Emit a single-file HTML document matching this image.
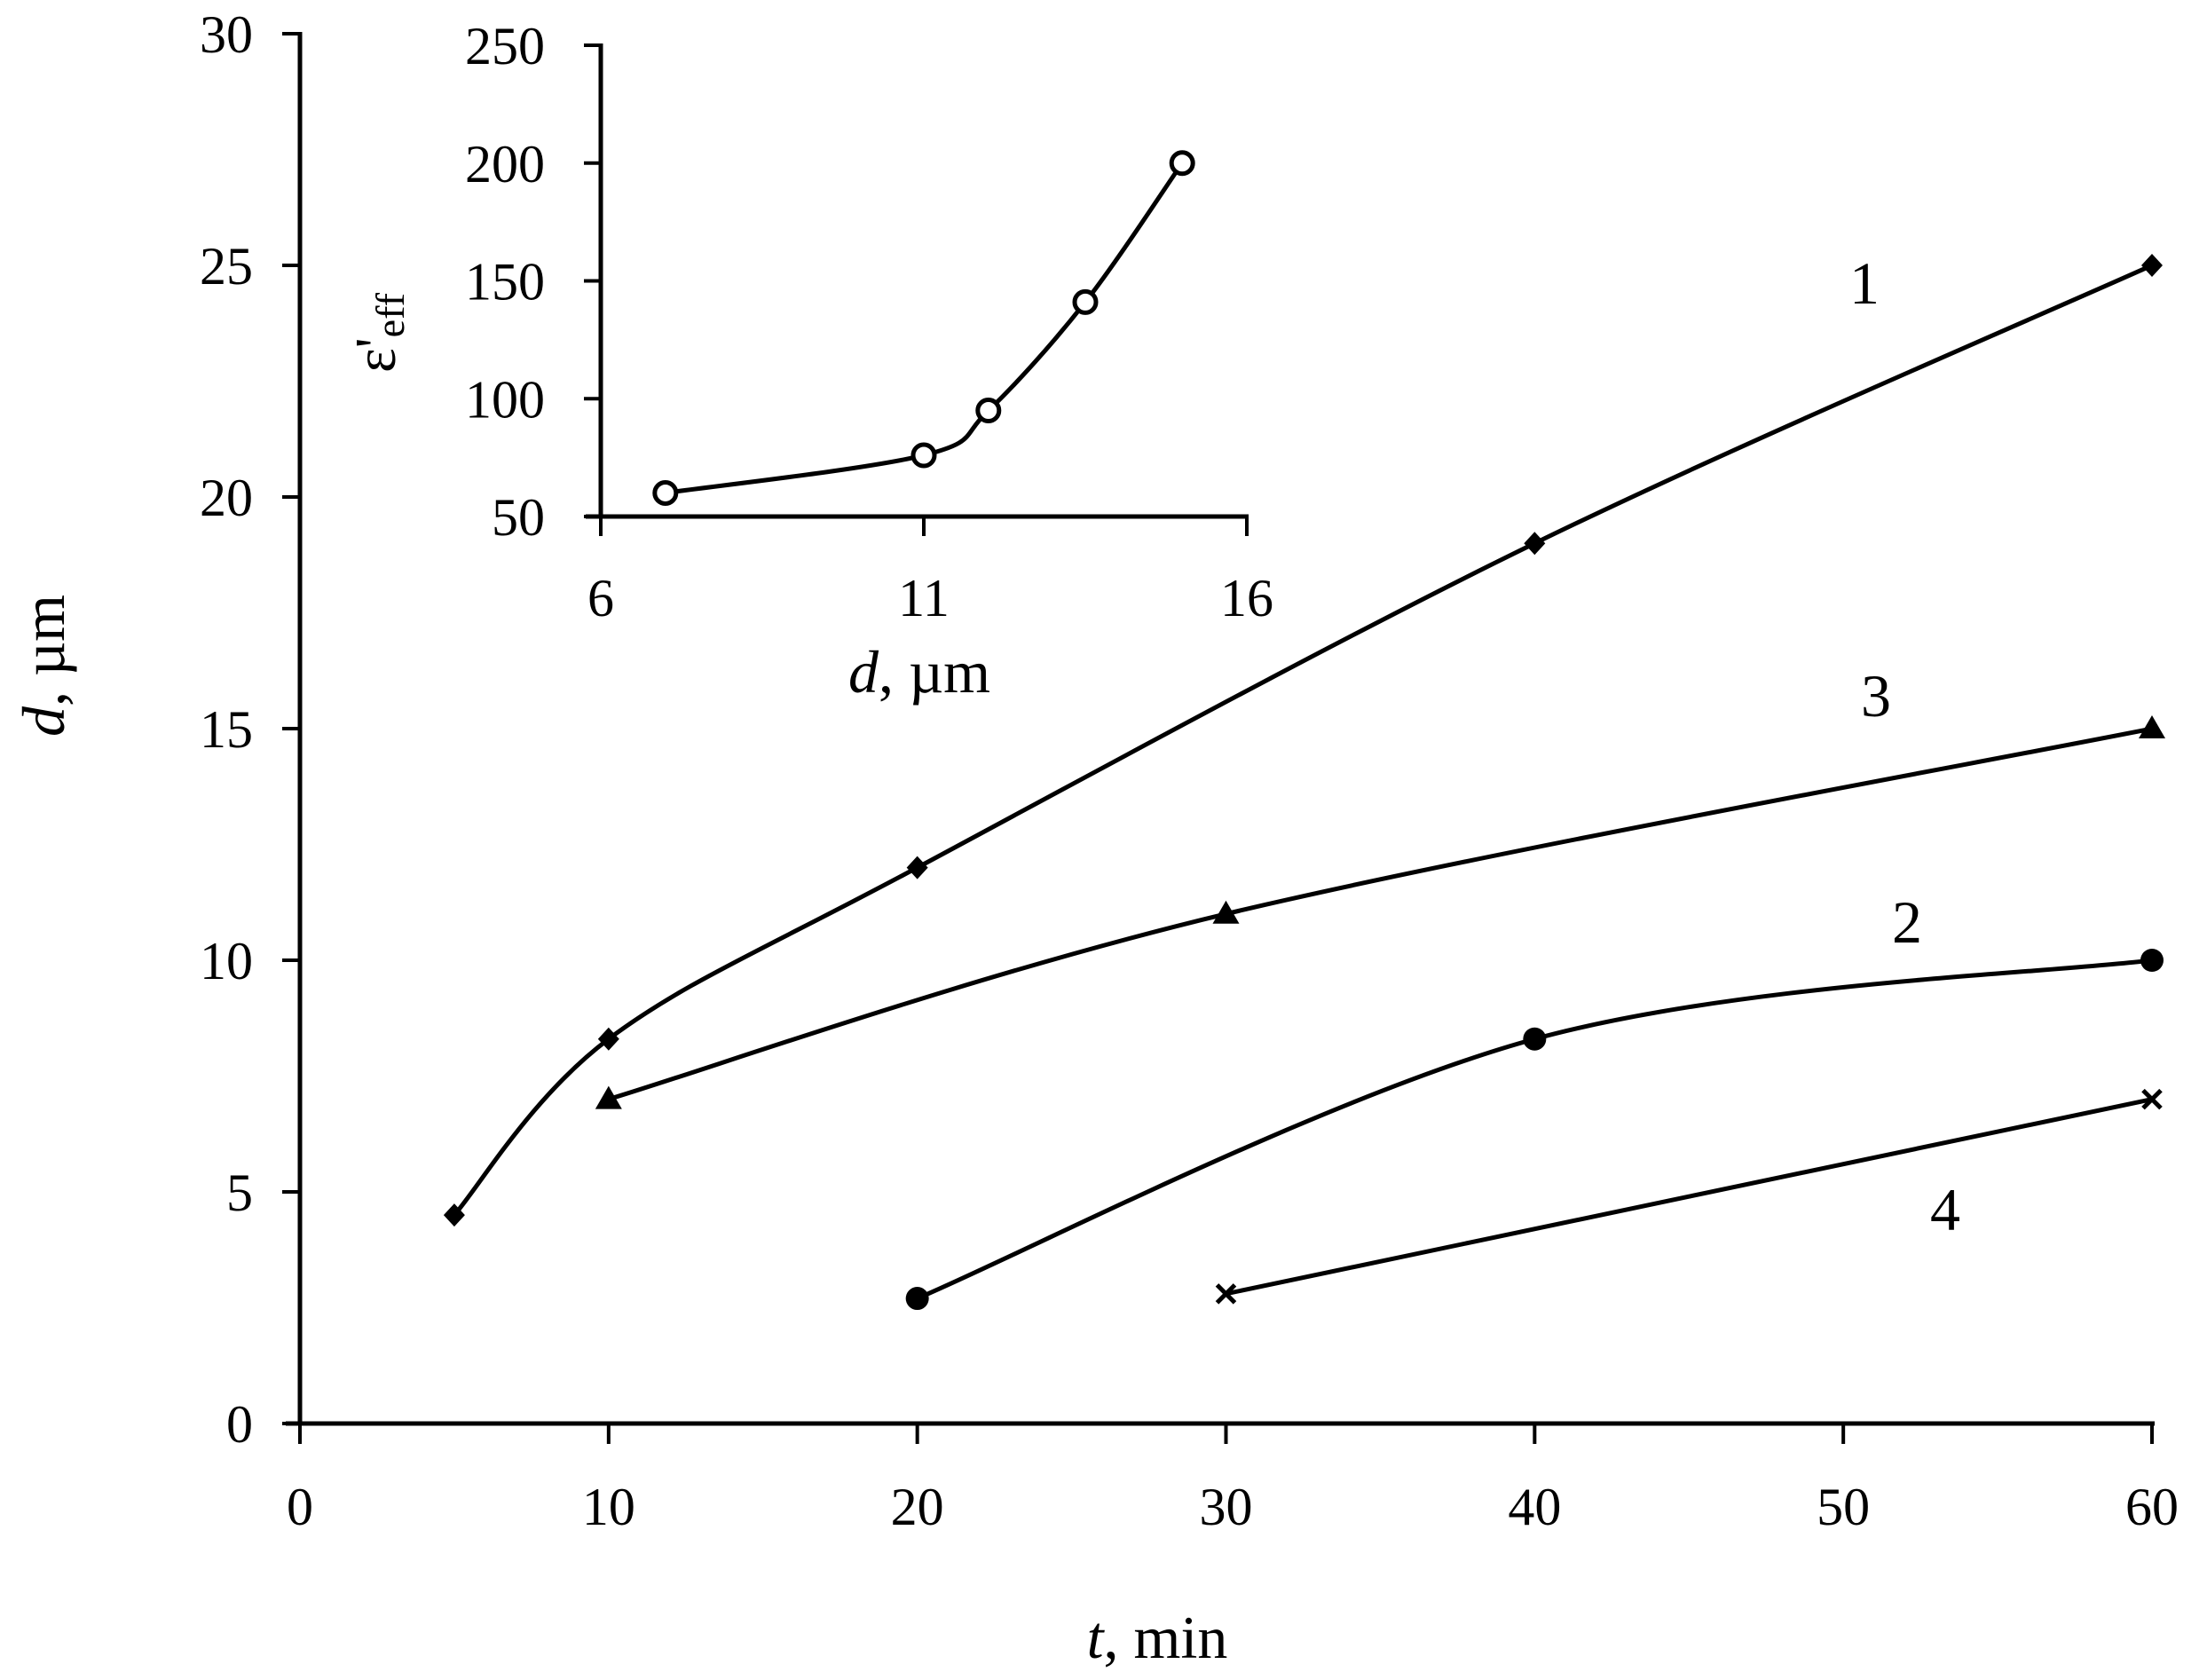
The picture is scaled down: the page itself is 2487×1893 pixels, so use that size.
<!DOCTYPE html>
<html><head><meta charset="utf-8"><style>
html,body{margin:0;padding:0;background:#fff}
svg{display:block}
text{font-family:"Liberation Serif",serif;fill:#000}
</style></head><body>
<svg id="s" width="2487" height="1893" viewBox="0 0 2487 1893" xmlns="http://www.w3.org/2000/svg"></svg>
<script>
const s=document.getElementById('s');let h='';
const X=t=>338+t*2087/60, Y=d=>1604-d*52.2;
const IX=d=>677+(d-6)*72.8, IY=e=>582-(e-50)*2.655;
function cr(p){let d='M'+p[0][0]+','+p[0][1];for(let i=0;i<p.length-1;i++){const p0=p[i-1]||p[i],p1=p[i],p2=p[i+1],p3=p[i+2]||p2;
const c1=[p1[0]+(p2[0]-p0[0])/6,p1[1]+(p2[1]-p0[1])/6],c2=[p2[0]-(p3[0]-p1[0])/6,p2[1]-(p3[1]-p1[1])/6];
d+=` C${c1} ${c2} ${p2}`;}return d;}
h+=`<line x1="338" y1="36" x2="338" y2="1604" stroke="#000" stroke-width="5"/>`;
h+=`<line x1="322" y1="1604" x2="2428" y2="1604" stroke="#000" stroke-width="5"/>`;
for(let i=0;i<=6;i++){const y=Y(i*5);h+=`<line x1="318" y1="${y}" x2="338" y2="${y}" stroke="#000" stroke-width="4"/><text x="285" y="${y+21}" font-size="60" text-anchor="end">${i*5}</text>`;
const x=X(i*10);h+=`<line x1="${x}" y1="1604" x2="${x}" y2="1627" stroke="#000" stroke-width="4"/><text x="${x}" y="1718" font-size="60" text-anchor="middle">${i*10}</text>`;}
h+=`<text x="1304" y="1868" font-size="68" text-anchor="middle"><tspan font-style="italic">t</tspan>, min</text>`;
h+=`<text transform="translate(72,750) rotate(-90)" font-size="68" text-anchor="middle"><tspan font-style="italic">d</tspan>, µm</text>`;
const S=[[[5,4.5],[10,8.3],[20,12],[40,19],[60,25]],[[10,7],[30,11],[60,15]],[[20,2.7],[40,8.3],[60,10]],[[30,2.8],[60,7]]];
const mk=['d','t','c','x'];
S.forEach((ser,k)=>{const p=ser.map(q=>[X(q[0]),Y(q[1])]);h+=`<path d="${cr(p)}" fill="none" stroke="#000" stroke-width="5"/>`;
p.forEach(([x,y])=>{if(mk[k]=='d')h+=`<polygon points="${x},${y-13} ${x+12},${y} ${x},${y+13} ${x-12},${y}"/>`;
else if(mk[k]=='t')h+=`<polygon points="${x},${y-15} ${x+15},${y+11} ${x-15},${y+11}"/>`;
else if(mk[k]=='c')h+=`<circle cx="${x}" cy="${y}" r="13"/>`;
else h+=`<path d="M${x-10},${y-10}L${x+10},${y+10}M${x+10},${y-10}L${x-10},${y+10}" stroke="#000" stroke-width="5"/>`;});});
[['1',2101,342],['3',2114,807],['2',2149,1062],['4',2192,1386]].forEach(a=>h+=`<text x="${a[1]}" y="${a[2]}" font-size="68" text-anchor="middle">${a[0]}</text>`);
h+=`<line x1="677" y1="49" x2="677" y2="582" stroke="#000" stroke-width="5"/><line x1="660" y1="582" x2="1407" y2="582" stroke="#000" stroke-width="5"/>`;
for(let i=0;i<5;i++){const v=50+i*50,y=IY(v);h+=`<line x1="658" y1="${y}" x2="677" y2="${y}" stroke="#000" stroke-width="4"/><text x="614" y="${y+21}" font-size="60" text-anchor="end">${v}</text>`;}
[6,11,16].forEach(v=>{const x=IX(v);h+=`<line x1="${x}" y1="582" x2="${x}" y2="604" stroke="#000" stroke-width="4"/><text x="${x}" y="694" font-size="60" text-anchor="middle">${v}</text>`;});
h+=`<text x="1036" y="780" font-size="68" text-anchor="middle"><tspan font-style="italic">d</tspan>, µm</text>`;
h+=`<text transform="translate(445,375) rotate(-90)" font-size="66" text-anchor="middle">ε'<tspan font-size="46" dy="10">eff</tspan></text>`;
const ip=[[7,60],[11,76],[12,95],[13.5,141],[15,200]].map(q=>[IX(q[0]),IY(q[1])]);
h+=`<path d="${cr(ip)}" fill="none" stroke="#000" stroke-width="5"/>`;
ip.forEach(([x,y])=>h+=`<circle cx="${x}" cy="${y}" r="12" fill="#fff" stroke="#000" stroke-width="5"/>`);
s.innerHTML=h;
</script>
</body></html>
